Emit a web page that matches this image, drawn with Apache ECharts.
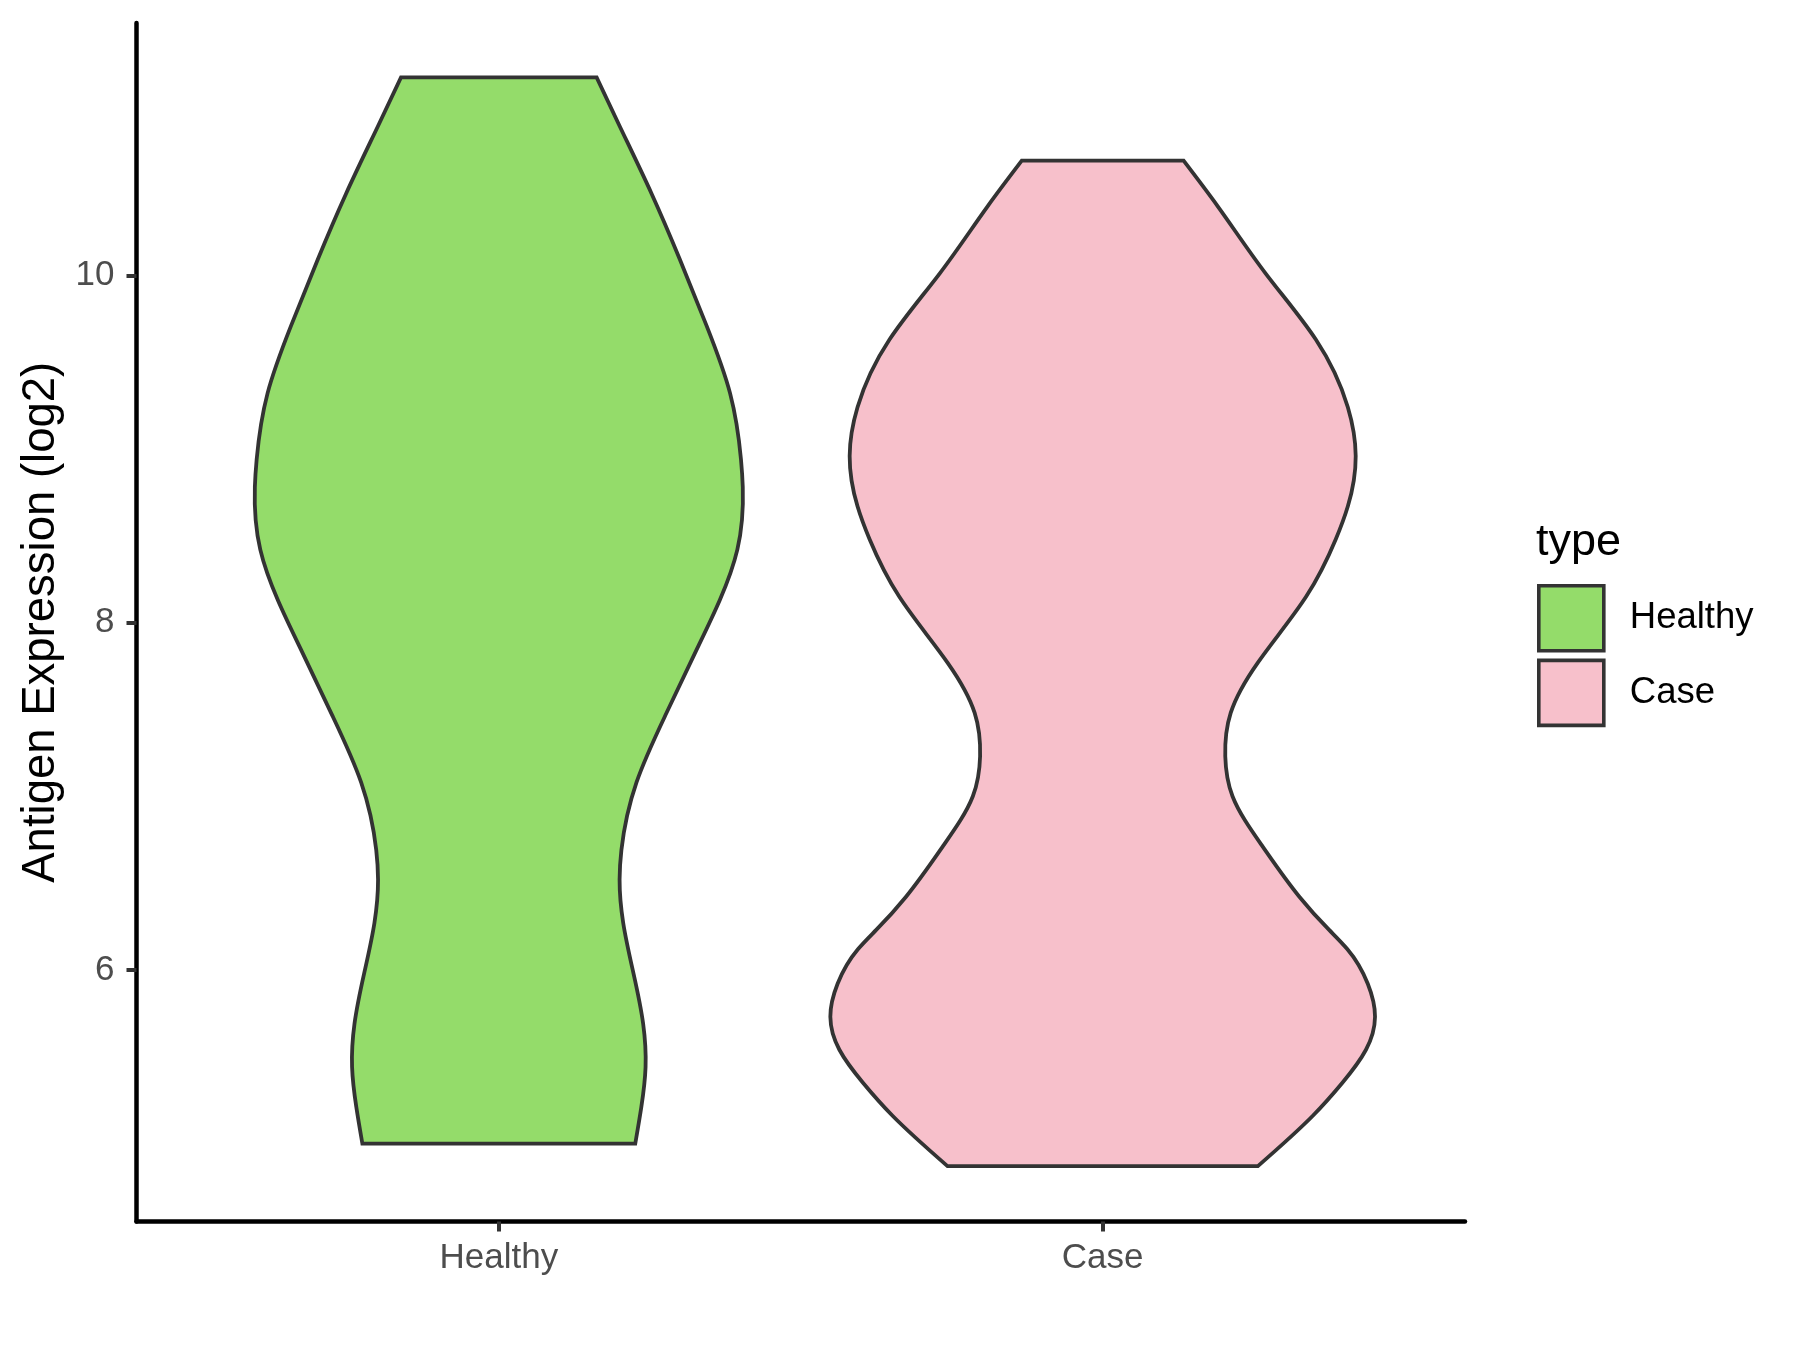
<!DOCTYPE html>
<html>
<head>
<meta charset="utf-8">
<script src="https://cdn.jsdelivr.net/npm/echarts@6/dist/echarts.min.js"></script>
<style>
html,body{margin:0;padding:0;background:#fff;}
#chart{width:1800px;height:1350px;}
</style>
</head>
<body>
<div id="chart"></div>
<script>
// ---- data ----
var categories = ['Healthy', 'Case'];
var yTicks = [6, 8, 10];
var legendTitle = 'type';
var yAxisTitle = 'Antigen Expression (log2)';

// violin outlines: value (log2) and half-width (in category units), bottom -> top
var healthyY = [5.00, 5.21, 5.44, 5.69, 5.98, 6.27, 6.52, 6.69, 7.08, 7.46, 7.84, 8.13, 8.42, 8.78, 8.94, 9.32, 9.71, 10.09, 10.47, 10.86, 11.14];
var healthyW = [0.226, 0.236, 0.243, 0.239, 0.223, 0.206, 0.200, 0.203, 0.228, 0.275, 0.327, 0.366, 0.395, 0.404, 0.401, 0.383, 0.344, 0.300, 0.253, 0.200, 0.162];

var caseY = [4.87, 5.16, 5.35, 5.54, 5.73, 5.92, 6.12, 6.23, 6.42, 6.71, 7.00, 7.23, 7.48, 7.77, 8.15, 8.48, 8.67, 8.96, 9.24, 9.63, 10.01, 10.40, 10.66];
var caseW = [0.257, 0.348, 0.397, 0.436, 0.451, 0.439, 0.405, 0.375, 0.326, 0.265, 0.215, 0.203, 0.212, 0.257, 0.337, 0.386, 0.406, 0.419, 0.406, 0.353, 0.270, 0.190, 0.134];

var colors = ['#94DC6A', '#F7C0CB'];
var outline = '#333333';
var FONT = '"Liberation Sans", Arial, Helvetica, sans-serif';

// slopes dw/dy at each knot of a natural cubic spline through (ys, ws)
function splineSlopes(ys, ws) {
  var n = ys.length, h = [], i;
  for (i = 0; i < n - 1; i++) h.push(ys[i + 1] - ys[i]);
  var a = new Array(n).fill(0), b = new Array(n).fill(1), c = new Array(n).fill(0), r = new Array(n).fill(0);
  for (i = 1; i < n - 1; i++) {
    a[i] = h[i - 1] / 6;
    b[i] = (h[i - 1] + h[i]) / 3;
    c[i] = h[i] / 6;
    r[i] = (ws[i + 1] - ws[i]) / h[i] - (ws[i] - ws[i - 1]) / h[i - 1];
  }
  for (i = 1; i < n; i++) {
    var m = a[i] / b[i - 1];
    b[i] -= m * c[i - 1];
    r[i] -= m * r[i - 1];
  }
  var M = new Array(n).fill(0);
  M[n - 1] = r[n - 1] / b[n - 1];
  for (i = n - 2; i >= 0; i--) M[i] = (r[i] - c[i] * M[i + 1]) / b[i];
  var s = [];
  for (i = 0; i < n - 1; i++) s.push((ws[i + 1] - ws[i]) / h[i] - h[i] * (2 * M[i] + M[i + 1]) / 6);
  s.push((ws[n - 1] - ws[n - 2]) / h[n - 2] + h[n - 2] * (M[n - 2] + 2 * M[n - 1]) / 6);
  return s;
}

function violinRenderer(ys, ws, xc, color) {
  var slopes = splineSlopes(ys, ws);
  return function (params, api) {
    function P(w, y) { return api.coord([xc + w, y]); }
    var n = ys.length, d, i, p, c1, c2, hh;
    p = P(ws[0], ys[0]);
    d = 'M ' + p[0] + ' ' + p[1];
    for (i = 0; i < n - 1; i++) {
      hh = ys[i + 1] - ys[i];
      c1 = P(ws[i] + slopes[i] * hh / 3, ys[i] + hh / 3);
      c2 = P(ws[i + 1] - slopes[i + 1] * hh / 3, ys[i + 1] - hh / 3);
      p = P(ws[i + 1], ys[i + 1]);
      d += ' C ' + c1[0] + ' ' + c1[1] + ' ' + c2[0] + ' ' + c2[1] + ' ' + p[0] + ' ' + p[1];
    }
    p = P(-ws[n - 1], ys[n - 1]);
    d += ' L ' + p[0] + ' ' + p[1];
    for (i = n - 1; i > 0; i--) {
      hh = ys[i] - ys[i - 1];
      c1 = P(-(ws[i] - slopes[i] * hh / 3), ys[i] - hh / 3);
      c2 = P(-(ws[i - 1] + slopes[i - 1] * hh / 3), ys[i - 1] + hh / 3);
      p = P(-ws[i - 1], ys[i - 1]);
      d += ' C ' + c1[0] + ' ' + c1[1] + ' ' + c2[0] + ' ' + c2[1] + ' ' + p[0] + ' ' + p[1];
    }
    d += ' Z';
    return {
      type: 'path',
      shape: { pathData: d },
      style: { fill: color, stroke: outline, lineWidth: 3.8, lineJoin: 'miter' }
    };
  };
}

var chart = echarts.init(document.getElementById('chart'), null, { renderer: 'canvas' });

var option = {
  animation: false,
  backgroundColor: '#ffffff',
  grid: { left: 136.5, right: 335, top: 23, bottom: 128.5, containLabel: false },
  xAxis: {
    type: 'value',
    min: 0.4,
    max: 2.6,
    splitLine: { show: false },
    axisLine: { show: true, onZero: false, lineStyle: { color: '#000', width: 4.5 } },
    axisTick: { show: true, customValues: [1, 2], length: 10, lineStyle: { color: '#333', width: 4 } },
    axisLabel: {
      show: true, customValues: [1, 2], margin: 19,
      formatter: function (v) { return categories[Math.round(v) - 1] || ''; },
      color: '#4D4D4D', fontSize: 35, fontFamily: FONT
    }
  },
  yAxis: {
    type: 'value',
    min: 4.551,
    max: 11.453,
    name: yAxisTitle,
    nameLocation: 'middle',
    nameGap: 72,
    nameTextStyle: { color: '#000', fontSize: 45.5, fontFamily: FONT },
    splitLine: { show: false },
    axisLine: { show: true, onZero: false, lineStyle: { color: '#000', width: 4.5 } },
    axisTick: { show: true, customValues: yTicks, length: 10, lineStyle: { color: '#333', width: 4 } },
    axisLabel: { show: true, customValues: yTicks, margin: 22, color: '#4D4D4D', fontSize: 35, fontFamily: FONT }
  },
  legend: {
    orient: 'vertical',
    left: 1537,
    top: 584,
    padding: 0,
    itemWidth: 65,
    itemHeight: 65,
    itemGap: 6,
    icon: 'rect',
    selectedMode: false,
    textStyle: { color: '#000', fontSize: 36.5, fontFamily: FONT, padding: [6, 0, 0, 21] },
    data: [
      { name: 'Healthy', itemStyle: { color: colors[0], borderColor: outline, borderWidth: 3.6 } },
      { name: 'Case', itemStyle: { color: colors[1], borderColor: outline, borderWidth: 3.6 } }
    ]
  },
  graphic: [
    {
      type: 'text', left: 1536, top: 520,
      style: { text: legendTitle, fill: '#000', font: '45px ' + FONT }
    }
  ],
  series: [
    {
      name: 'Healthy', type: 'custom', coordinateSystem: 'cartesian2d',
      itemStyle: { color: colors[0], borderColor: outline, borderWidth: 3.6 },
      renderItem: violinRenderer(healthyY, healthyW, 1, colors[0]),
      data: [[1, healthyY[0]]],
      z: 3
    },
    {
      name: 'Case', type: 'custom', coordinateSystem: 'cartesian2d',
      itemStyle: { color: colors[1], borderColor: outline, borderWidth: 3.6 },
      renderItem: violinRenderer(caseY, caseW, 2, colors[1]),
      data: [[2, caseY[0]]],
      z: 3
    }
  ]
};
chart.setOption(option);
</script>
</body>
</html>
